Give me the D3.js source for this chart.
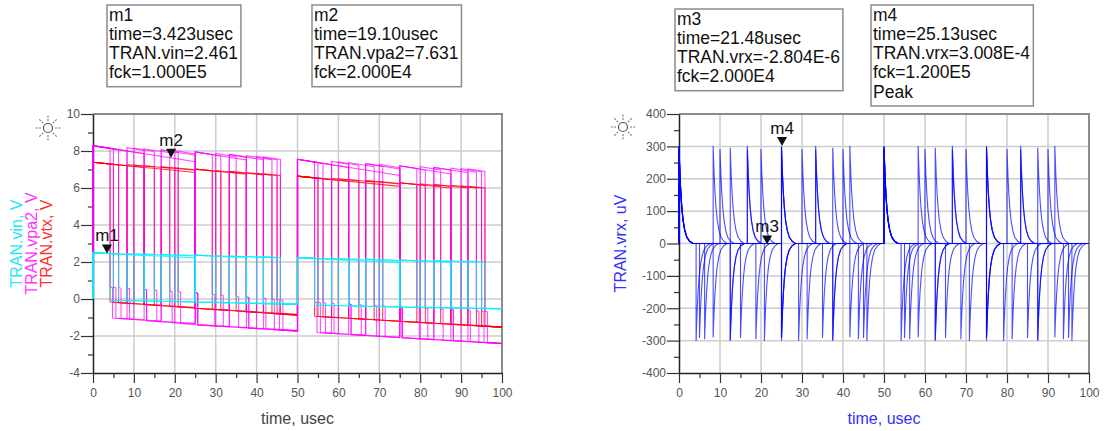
<!DOCTYPE html>
<html><head><meta charset="utf-8">
<script src="https://cdn.jsdelivr.net/npm/d3@7"></script>
<style>
body{margin:0;background:#fff}
svg{display:block}
text{font-family:"Liberation Sans",Arial,sans-serif}
</style></head>
<body><svg id="c" width="1104" height="431"></svg>
<script>
// ---------------- DATA ----------------
const fckValues = [2e4, 4e4, 6e4, 8e4, 1e5, 1.2e5];
// switching instants (usec) of each swept trace; even index = rising, odd = falling
const edges_2e4  = [0, 25, 50, 75];
const edges_4e4  = [0, 12.5, 25, 37.5, 50, 62.5, 75, 87.5];
const edges_6e4  = [0, 8.33, 16.67, 25, 33.33, 41.67, 50, 58.33, 66.67, 75, 83.33, 91.67];
const edges_8e4  = [0, 6.25, 12.5, 18.75, 25, 31.25, 37.5, 43.75, 50, 56.25, 62.5, 68.75, 75, 81.25, 87.5, 93.75];
const edges_1e5  = [0, 5, 10, 15, 20, 25, 30, 35, 40, 45, 50, 55, 60, 65, 70, 75, 80, 85, 90, 95];
const edges_12e4 = [0, 4.17, 8.33, 12.5, 16.67, 20.83, 25, 29.17, 33.33, 37.5, 41.67, 45.83, 50, 54.17, 58.33, 62.5, 66.67, 70.83, 75, 79.17, 83.33, 87.5, 91.67, 95.83];
const traceEdges = [edges_2e4, edges_4e4, edges_6e4, edges_8e4, edges_1e5, edges_12e4];

// level envelopes read at these times (usec)
const envTimes = [0, 25, 50, 75, 100];
const vinHigh  = [2.50, 2.37, 2.24, 2.11, 2.02];
const vinLow   = [-0.05, -0.17, -0.31, -0.44, -0.53];
const vpa2High = [8.29, 7.95, 7.55, 7.20, 6.95];
const vpa2Low  = [-0.95, -1.40, -1.75, -2.10, -2.42];
const vpa2Step = [0.72, 0.35, -0.10, -0.40, -0.70];
const vtxHigh  = [7.39, 7.02, 6.64, 6.28, 6.00];
const vtxLow   = [-0.10, -0.50, -0.88, -1.20, -1.52];
// droop (V per usec) while a level is held
const vinDroop  = [0.011, 0.003];
const vpa2Droop = [0.035, 0.012];
const vtxDroop  = [0.022, 0.013];

// vrx spike shape after an edge (usec after edge, uV)
const spikeTimes  = [0, 0.1, 0.25, 0.45, 0.7, 1.0, 1.4, 1.9, 2.6, 3.4];
const spikeValues = [300, 262, 210, 158, 110, 72, 41, 20, 7, 0];
const spikePeaks  = [300, 298, 290, 296, 292, 300.8];

// markers
const markerNames  = ["m1", "m2", "m3", "m4"];
const markerTimes  = [3.423, 19.10, 21.48, 25.13];
const markerValues = [2.461, 7.631, -2.804e-6, 3.008e-4];
const markerLines = [
  ["m1", "time=3.423usec", "TRAN.vin=2.461", "fck=1.000E5"],
  ["m2", "time=19.10usec", "TRAN.vpa2=7.631", "fck=2.000E4"],
  ["m3", "time=21.48usec", "TRAN.vrx=-2.804E-6", "fck=2.000E4"],
  ["m4", "time=25.13usec", "TRAN.vrx=3.008E-4", "fck=1.200E5", "Peak"]
];

const xTicks = [0, 10, 20, 30, 40, 50, 60, 70, 80, 90, 100];
const xMinor = [5, 15, 25, 35, 45, 55, 65, 75, 85, 95];
const yTicksL = [-4, -2, 0, 2, 4, 6, 8, 10];
const yMinorL = [-3, -1, 1, 3, 5, 7, 9];
const yTicksR = [-400, -300, -200, -100, 0, 100, 200, 300, 400];
const yMinorR = [-350, -250, -150, -50, 50, 150, 250, 350];

// ---------------- LAYOUT ----------------
const svg = d3.select("#c");
const xL = d3.scaleLinear([0, 100], [93, 502]);
const yL = d3.scaleLinear([-4, 10], [373, 114]);
const xR = d3.scaleLinear([0, 100], [679, 1089]);
const yR = d3.scaleLinear([-400, 400], [373, 114]);

function panel(x, y, yMajor, yMinor) {
  const g = svg.append("g");
  const [x0, x1] = x.range(), [y0, y1] = y.range();
  // grid
  g.selectAll(null).data(xTicks.slice(1, -1)).join("line")
    .attr("x1", d => x(d)).attr("x2", d => x(d)).attr("y1", y0).attr("y2", y1)
    .attr("stroke", "#cdcdcd").attr("stroke-width", 1.5);
  g.selectAll(null).data(yMajor.slice(1, -1)).join("line")
    .attr("x1", x0).attr("x2", x1).attr("y1", d => y(d)).attr("y2", d => y(d))
    .attr("stroke", "#cdcdcd").attr("stroke-width", 1.5);
  // frame top/right
  g.append("path").attr("d", `M${x0},${y1}H${x1}V${y0}`).attr("fill", "none")
    .attr("stroke", "#8c8c8c").attr("stroke-width", 2);
  // axes
  const ax = g.append("g").attr("transform", `translate(0,${y0})`)
    .call(d3.axisBottom(x).tickValues(xTicks).tickSize(10).tickSizeOuter(0).tickPadding(5).tickFormat(d => String(d)));
  g.append("g").attr("transform", `translate(0,${y0})`)
    .call(d3.axisBottom(x).tickValues(xMinor).tickSize(5).tickSizeOuter(0).tickFormat(""))
    .select(".domain").remove();
  const ay = g.append("g").attr("transform", `translate(${x0},0)`)
    .call(d3.axisLeft(y).tickValues(yMajor).tickSize(12).tickSizeOuter(0).tickPadding(1).tickFormat(d => String(d)));
  g.append("g").attr("transform", `translate(${x0},0)`)
    .call(d3.axisLeft(y).tickValues(yMinor).tickSize(5).tickSizeOuter(0).tickFormat(""))
    .select(".domain").remove();
  g.selectAll(".domain").attr("stroke", "#222").attr("stroke-width", 1.5);
  g.selectAll(".tick line").attr("stroke", "#333").attr("stroke-width", 1.2);
  g.selectAll(".tick text").attr("fill", "#555").style("font-size", "12px")
    .style("font-family", "'Liberation Sans',Arial,sans-serif");
  return g;
}

function star(cx, cy) {
  const g = svg.append("g").attr("transform", `translate(${cx},${cy})`);
  g.append("circle").attr("r", 4.5).attr("fill", "none").attr("stroke", "#555").attr("stroke-width", 1.2);
  d3.range(8).forEach(i => {
    const a = i * Math.PI / 4;
    g.append("line").attr("x1", 7 * Math.cos(a)).attr("y1", 7 * Math.sin(a))
      .attr("x2", 13 * Math.cos(a)).attr("y2", 13 * Math.sin(a))
      .attr("stroke", "#777").attr("stroke-width", 1.1).attr("stroke-dasharray", "2,1.2");
  });
}

panel(xL, yL, yTicksL, yMinorL);
panel(xR, yR, yTicksR, yMinorR);
star(48, 128);
star(623, 127);

// ---------------- LEFT TRACES ----------------
function levelTrace(edges, hi, lo, droop, step) {
  const H = d3.scaleLinear(envTimes, hi), L = d3.scaleLinear(envTimes, lo);
  const S = step ? d3.scaleLinear(envTimes, step) : null;
  const pts = [[0, 0]];
  edges.forEach((a, i) => {
    const b = i + 1 < edges.length ? edges[i + 1] : 100;
    if (i % 2 === 0) {
      const s = H(a);
      pts.push([a, s], [b, s - droop[0] * (b - a)]);
    } else {
      let a2 = a;
      if (S) { const h = S(a); a2 = a + 0.6; pts.push([a, h], [a2, h - 0.05]); }
      const s = L(a);
      pts.push([a2, s], [b, s - droop[1] * (b - a2)]);
    }
  });
  return pts;
}
const lineL = d3.line().x(d => xL(d[0])).y(d => yL(d[1]));
const gl = svg.append("g").attr("fill", "none").attr("stroke-width", 1.1);
traceEdges.forEach(e => gl.append("path").attr("d", lineL(levelTrace(e, vtxHigh, vtxLow, vtxDroop, null)))
  .attr("stroke", "#ff0000").attr("stroke-opacity", 0.75));
traceEdges.forEach(e => gl.append("path").attr("d", lineL(levelTrace(e, vpa2High, vpa2Low, vpa2Droop, vpa2Step)))
  .attr("stroke", "#ff00ff").attr("stroke-opacity", 0.7));
traceEdges.forEach(e => gl.append("path").attr("d", lineL(levelTrace(e, vinHigh, vinLow, vinDroop, null)))
  .attr("stroke", "#00f0ff").attr("stroke-opacity", 0.75));

// ---------------- RIGHT TRACES ----------------
function spikeTrace(edges, peak) {
  const pts = [[0, 0]];
  edges.forEach((a, i) => {
    const sgn = i % 2 === 0 ? 1 : -1;
    pts.push([a, 0]);
    spikeTimes.forEach((o, j) => pts.push([a + o, sgn * spikeValues[j] * peak / 300]));
  });
  pts.push([100, 0]);
  return pts;
}
const lineR = d3.line().x(d => xR(d[0])).y(d => yR(d[1] * 1e6 > 1e9 ? 0 : d[1]));
const gr = svg.append("g").attr("fill", "none").attr("stroke-width", 1.1);
traceEdges.forEach((e, k) => gr.append("path").attr("d", lineR(spikeTrace(e, spikePeaks[k])))
  .attr("stroke", "#0000ff").attr("stroke-opacity", 0.7));

// ---------------- MARKERS ----------------
const mScaleX = [xL, xL, xR, xR];
const mScaleY = [yL, yL, d => yR(d * 1e6), d => yR(d * 1e6)];
markerNames.forEach((n, i) => {
  const px = mScaleX[i](markerTimes[i]), py = mScaleY[i](markerValues[i]);
  svg.append("path").attr("d", `M${px - 5},${py - 9}L${px + 5},${py - 9}L${px},${py}Z`).attr("fill", "#111");
  svg.append("text").attr("x", px).attr("y", py - 12).attr("text-anchor", "middle")
    .style("font-size", "17px").attr("fill", "#111").text(n);
});

// marker readout boxes
const boxPos = [[107, 5], [312, 5], [675, 9], [871, 5]];
markerLines.forEach((lines, i) => {
  const g = svg.append("g").attr("transform", `translate(${boxPos[i][0]},${boxPos[i][1]})`);
  const rect = g.append("rect").attr("fill", "#fff").attr("stroke", "#8c8c8c").attr("stroke-width", 1.5);
  const t = g.append("text").style("font-size", "17.5px").attr("fill", "#111");
  lines.forEach((s, j) => t.append("tspan").attr("x", 2).attr("y", 15.5 + j * 19.3).text(s));
  const bb = t.node().getBBox();
  rect.attr("width", bb.width + 5).attr("height", lines.length * 19.3 + 4.5);
});

// ---------------- AXIS TITLES ----------------
svg.append("text").attr("x", (93 + 502) / 2).attr("y", 424).attr("text-anchor", "middle")
  .style("font-size", "16px").attr("fill", "#444").text("time, usec");
svg.append("text").attr("x", (679 + 1089) / 2).attr("y", 424).attr("text-anchor", "middle")
  .style("font-size", "16px").attr("fill", "#3333ff").text("time, usec");
const yTitlesL = [["TRAN.vin, V", "#22e8f0", 22], ["TRAN.vpa2, V", "#ff33ff", 37], ["TRAN.vtx, V", "#ff3030", 52]];
yTitlesL.forEach(([s, c, x]) => svg.append("text")
  .attr("transform", `translate(${x},243.5) rotate(-90)`).attr("text-anchor", "middle")
  .style("font-size", "16px").attr("fill", c).text(s));
svg.append("text").attr("transform", `translate(626,243.5) rotate(-90)`).attr("text-anchor", "middle")
  .style("font-size", "16px").attr("fill", "#3333ff").text("TRAN.vrx, uV");
</script></body></html>
